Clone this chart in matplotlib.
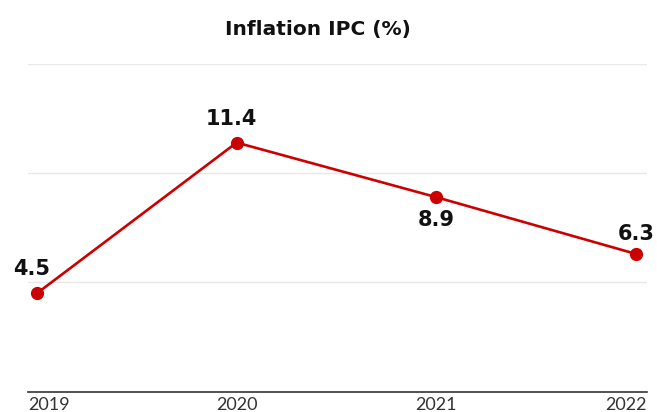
import matplotlib
matplotlib.use("Agg")
import matplotlib.pyplot as plt

years = [2019, 2020, 2021, 2022]
inflation = [4.5, 11.4, 8.9, 6.3]
label_pos = ["above", "above", "below", "above"]
title = "Inflation IPC (%)"

plt.rcParams['font.family'] = ['Lato', 'DejaVu Sans']
bold_font = ['DejaVu Sans']

fig = plt.figure(figsize=(6.57, 4.12), dpi=100)
ax = fig.add_axes([28/657, (412-391.5)/412, (647-28)/657, (391.5-64)/412])

ax.plot(years, inflation, color='#cc0000', lw=1.9, marker='o', ms=8.5, zorder=3)
ax.set_xlim(2019 - 9/199.7, 2022 + 11/199.7)
ax.set_ylim(0, 15)
ax.set_yticks([0, 5, 10, 15])
ax.yaxis.grid(True, color='#e8e8e8', lw=1)
ax.set_axisbelow(True)
ax.tick_params(axis='y', length=0, labelleft=False)
ax.set_xticks(years)
ax.tick_params(axis='x', length=0, labelbottom=False)
for s in ['top', 'left', 'right']:
    ax.spines[s].set_visible(False)
ax.spines['bottom'].set_color('#333333')
ax.spines['bottom'].set_linewidth(1.2)

xmin, xmax = ax.get_xlim()
trans = ax.get_xaxis_transform()
for i, y in enumerate(years):
    if i == 0:
        xpos, ha = xmin, 'left'
    elif i == len(years) - 1:
        xpos, ha = xmax, 'right'
    else:
        xpos, ha = y, 'center'
    ax.text(xpos, -0.04, str(y), transform=trans, ha=ha, va='center',
            fontsize=13, color='#333333')

n = len(years)
for i, (x, v, p) in enumerate(zip(years, inflation, label_pos)):
    if p == "above":
        last = (i == n - 1)
        ax.annotate(f"{v:.1f}", (x, v), xytext=(0 if last else -4, 7.5 if last else 10),
                    textcoords='offset points', ha='center', va='bottom',
                    fontsize=15, fontweight='bold', color='#111111', family=bold_font)
    else:
        ax.annotate(f"{v:.1f}", (x, v), xytext=(0, -9),
                    textcoords='offset points', ha='center', va='top',
                    fontsize=15, fontweight='bold', color='#111111', family=bold_font)

fig.text(318/657, 1 - 29/412, title, ha='center', va='center',
         fontsize=14.5, fontweight='bold', color='#111111', family=bold_font)

fig.savefig('out.png', dpi=100)
